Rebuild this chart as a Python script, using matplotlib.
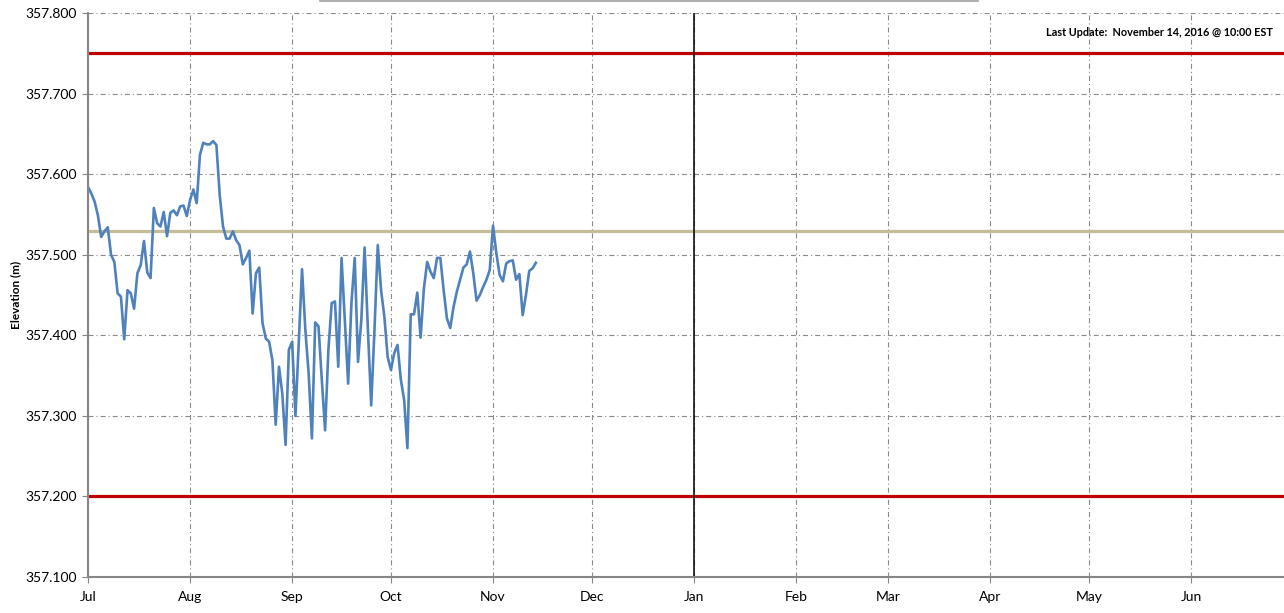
import pandas as pd
import matplotlib
matplotlib.use("Agg")
import matplotlib.pyplot as plt
import matplotlib.dates as mdates
from matplotlib.lines import Line2D

plt.rcParams['font.family'] = ['Lato', 'DejaVu Sans']

# daily water level, Jul 1 - Nov 14, 2016
start_date = "2016-07-01"
elevation = [
    357.584, 357.576, 357.566, 357.549, 357.522, 357.529, 357.534, 357.500, 357.491, 357.452,
    357.448, 357.395, 357.456, 357.452, 357.433, 357.477, 357.487, 357.517, 357.478, 357.471,
    357.558, 357.539, 357.535, 357.553, 357.523, 357.552, 357.555, 357.549, 357.560, 357.561,
    357.548, 357.568, 357.581, 357.564, 357.624, 357.639, 357.637, 357.637, 357.641, 357.636,
    357.574, 357.535, 357.520, 357.520, 357.529, 357.518, 357.512, 357.488, 357.496, 357.505,
    357.427, 357.477, 357.484, 357.415, 357.396, 357.392, 357.369, 357.289, 357.361, 357.328,
    357.264, 357.382, 357.392, 357.300, 357.390, 357.482, 357.407, 357.353, 357.272, 357.416,
    357.411, 357.345, 357.282, 357.382, 357.440, 357.442, 357.361, 357.496, 357.419, 357.340,
    357.440, 357.496, 357.367, 357.419, 357.509, 357.407, 357.313, 357.407, 357.512, 357.456,
    357.423, 357.373, 357.357, 357.378, 357.388, 357.345, 357.320, 357.260, 357.426, 357.426,
    357.453, 357.397, 357.458, 357.491, 357.479, 357.471, 357.496, 357.496, 357.456, 357.421,
    357.409, 357.435, 357.454, 357.469, 357.484, 357.488, 357.504, 357.477, 357.443, 357.450,
    357.460, 357.469, 357.481, 357.536, 357.502, 357.475, 357.467, 357.489, 357.492, 357.493,
    357.469, 357.476, 357.425, 357.450, 357.480, 357.483, 357.490,
]
upper_limit = 357.75
lower_limit = 357.20
target_level = 357.53
year_break = "2017-01-01"
update_text = "Last Update:  November 14, 2016 @ 10:00 EST"
y_ticks = [357.1, 357.2, 357.3, 357.4, 357.5, 357.6, 357.7, 357.8]

dates = pd.date_range(start_date, periods=len(elevation), freq="D")
x_start = pd.Timestamp("2016-07-01")
x_end = x_start + pd.Timedelta(days=363.2)

fig = plt.figure(figsize=(12.84, 6.13), dpi=100)
ax = fig.add_axes([88 / 1284, 1 - 577 / 613, 1 - 88 / 1284, (577 - 13) / 613])

grid_style = dict(color="#8a8a8a", linewidth=0.8, linestyle=(0, (4.5, 2.7, 1, 2.7)))
ax.grid(True, **grid_style)
ax.set_axisbelow(True)

ax.axhline(upper_limit, color="#C00000", linewidth=2.3, zorder=3)
ax.axhline(lower_limit, color="#C00000", linewidth=2.3, zorder=3)
ax.axhline(target_level, color="#C4BD97", linewidth=2.3, zorder=3)
ax.axvline(pd.Timestamp(year_break), color="black", linewidth=1.1, zorder=3)
ax.plot(dates, elevation, color="#4F81BD", linewidth=1.9, zorder=4)

ax.set_xlim(x_start, x_end)
ax.set_ylim(357.1, 357.8)
ax.set_yticks(y_ticks)
ax.set_yticklabels([f"{v:.3f}" for v in y_ticks])
ax.xaxis.set_major_locator(mdates.MonthLocator())
ax.xaxis.set_major_formatter(mdates.DateFormatter("%b"))

for side in ["top", "right"]:
    ax.spines[side].set_visible(False)
for side in ["left", "bottom"]:
    ax.spines[side].set_color("#868686")
    ax.spines[side].set_linewidth(1.5)
    ax.spines[side].set_zorder(5)
ax.tick_params(axis="both", length=4, width=0.8, color="#868686", labelsize=10)
ax.tick_params(axis="x", pad=6)
ax.tick_params(axis="y", pad=4)

ax.set_ylabel("Elevation (m)", fontsize=8.5, fontweight="bold", labelpad=3)
ax.text(0.991, 0.975, update_text, transform=ax.transAxes, ha="right", va="top",
        fontsize=7.8, fontweight="bold")

# bottom edge of the cut-off title box
fig.add_artist(Line2D([320 / 1284, 978 / 1284], [0.998, 0.998], color="#a0a0a0",
                      linewidth=1.2, transform=fig.transFigure))

fig.savefig("out.png", dpi=100)
